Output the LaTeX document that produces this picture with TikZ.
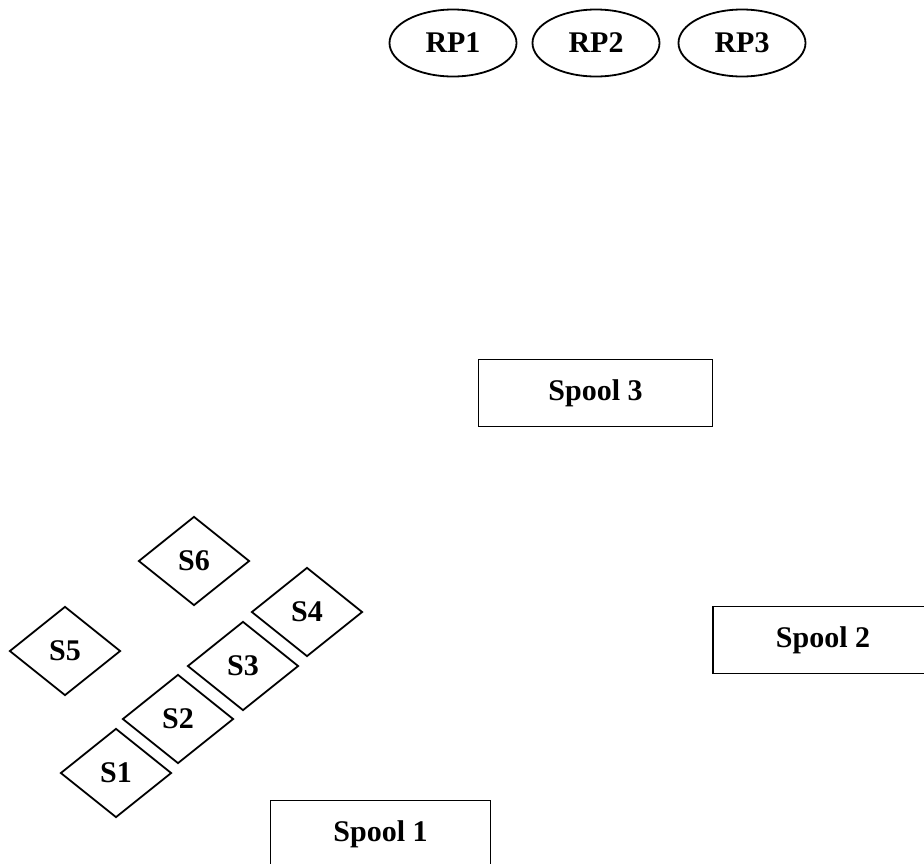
\documentclass[tikz,border=0pt]{standalone}
\usepackage{fontspec}
\setmainfont{Liberation Serif}
\usetikzlibrary{shapes.geometric}
\tikzset{>=latex}
\tikzset{
  rp/.style={draw, line width=1.8pt, ellipse, minimum width=127pt, minimum height=67pt, inner sep=0pt},
  spoolbox/.style={draw, line width=1.8pt, rectangle, minimum height=67pt, inner sep=0pt},
  slot/.style={draw, line width=1.8pt, diamond, minimum width=111pt, minimum height=89pt, inner sep=0pt},
}

\begin{document}
\begin{tikzpicture}[x=1pt, y=-1pt, font=\fontsize{30}{36}\selectfont\bfseries]
\useasboundingbox (0,0) rectangle (924,863);
\clip (0,0) rectangle (924,863);
% rendezvous points
\node[rp] (rp1) at (453, 43) {RP1};
\node[rp] (rp2) at (596, 43) {RP2};
\node[rp] (rp3) at (742, 43) {RP3};
% spools
\node[spoolbox, minimum width=234pt] (sp3) at (595.5, 393) {Spool 3};
\node[spoolbox, minimum width=220pt] (sp2) at (823, 640) {Spool 2};
\node[spoolbox, minimum width=220pt] (sp1) at (380.5, 834) {Spool 1};
% slots
\node[slot] (s6) at (194, 561) {S6};
\node[slot] (s5) at (65, 651) {S5};
\node[slot] (s4) at (307, 612) {S4};
\node[slot] (s3) at (243, 666) {S3};
\node[slot] (s2) at (178, 719) {S2};
\node[slot] (s1) at (116, 773) {S1};
\end{tikzpicture}
\end{document}
